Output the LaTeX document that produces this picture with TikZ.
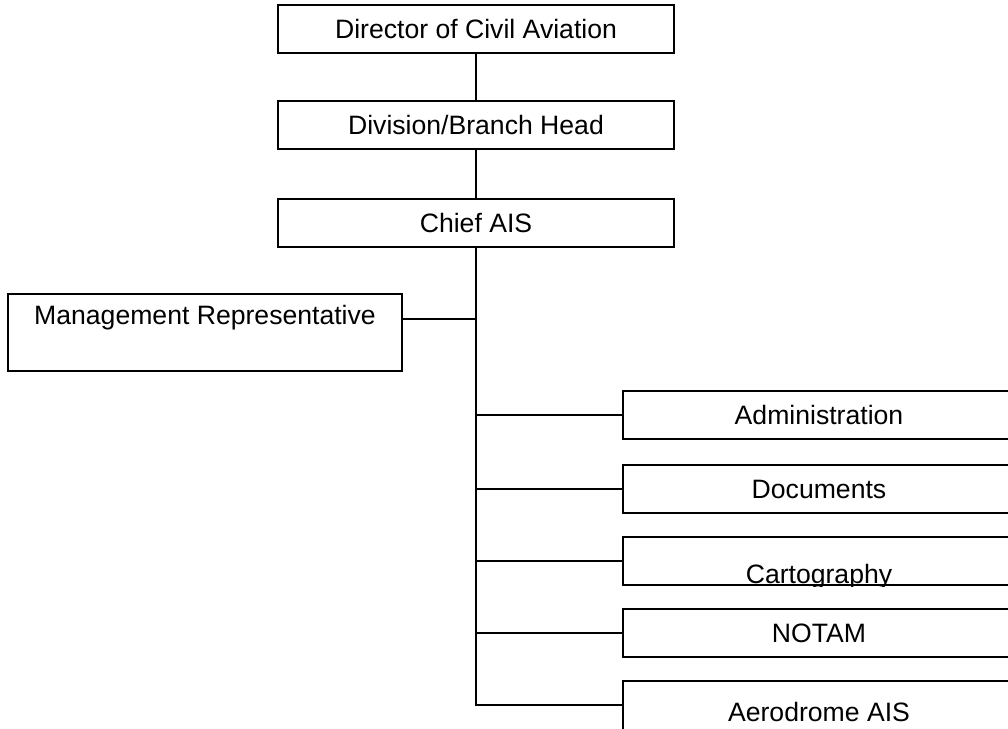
\documentclass[tikz,border=0pt]{standalone}
\usepackage{fontspec}
\setmainfont{Liberation Sans}
\begin{document}
\begin{tikzpicture}[x=0.5pt,y=-0.5pt,
  every node/.style={font=\fontsize{13.3}{15}\selectfont},
  orgbox/.style={draw, line width=1pt, inner sep=0pt, rectangle},
  topbox/.style={orgbox, minimum width=198pt, minimum height=24pt},
  unitbox/.style={orgbox, minimum width=196pt, minimum height=24pt},
  link/.style={line width=1pt}]
  % page frame
  \path[use as bounding box, fill=white] (0,0) rectangle (1008,729);
  \clip (0,0) rectangle (1008,729);

  % chain of command
  \node[topbox] (dir)   at (476,29)    {Director of Civil Aviation};
  \node[topbox] (div)   at (476,125)   {Division/Branch Head};
  \node[topbox] (chief) at (476,222.5) {Chief AIS};

  % staff post beside the chain
  \node[orgbox, minimum width=197pt, minimum height=38.5pt] (mgmt) at (205,332.5) {};
  \node (mgmttext) at (205,318) {Management Representative};

  % sections under Chief AIS
  \node[unitbox] (adm)   at (819,415) {Administration};
  \node[unitbox] (doc)   at (819,489) {Documents};
  \node[unitbox] (carto) at (819,561) {};
  \begin{scope}
    \clip (carto.south west) rectangle (carto.north east);
    \node[anchor=base, inner sep=0pt] (cartotext) at (819,583) {Cartography};
  \end{scope}
  \node[unitbox] (notam) at (819,633) {NOTAM};
  \node[unitbox, minimum height=30pt] (aero) at (819,711) {};
  \node[anchor=base, inner sep=0pt] (aerotext) at (819,721) {Aerodrome AIS};

  % connectors
  \draw[link] (dir.south) -- (div.north);
  \draw[link] (div.south) -- (chief.north);
  \coordinate (trunkend) at (476,705);
  \draw[link] (chief.south) -- (trunkend) -- (aero.west |- trunkend);
  \coordinate (mgmtlink) at ([yshift=6.75pt]mgmt.east);
  \draw[link] (mgmtlink) -- (chief.south |- mgmtlink);
  \foreach \u in {adm,doc,carto,notam}
    \draw[link] (chief.south |- \u.west) -- (\u.west);
\end{tikzpicture}
\end{document}
